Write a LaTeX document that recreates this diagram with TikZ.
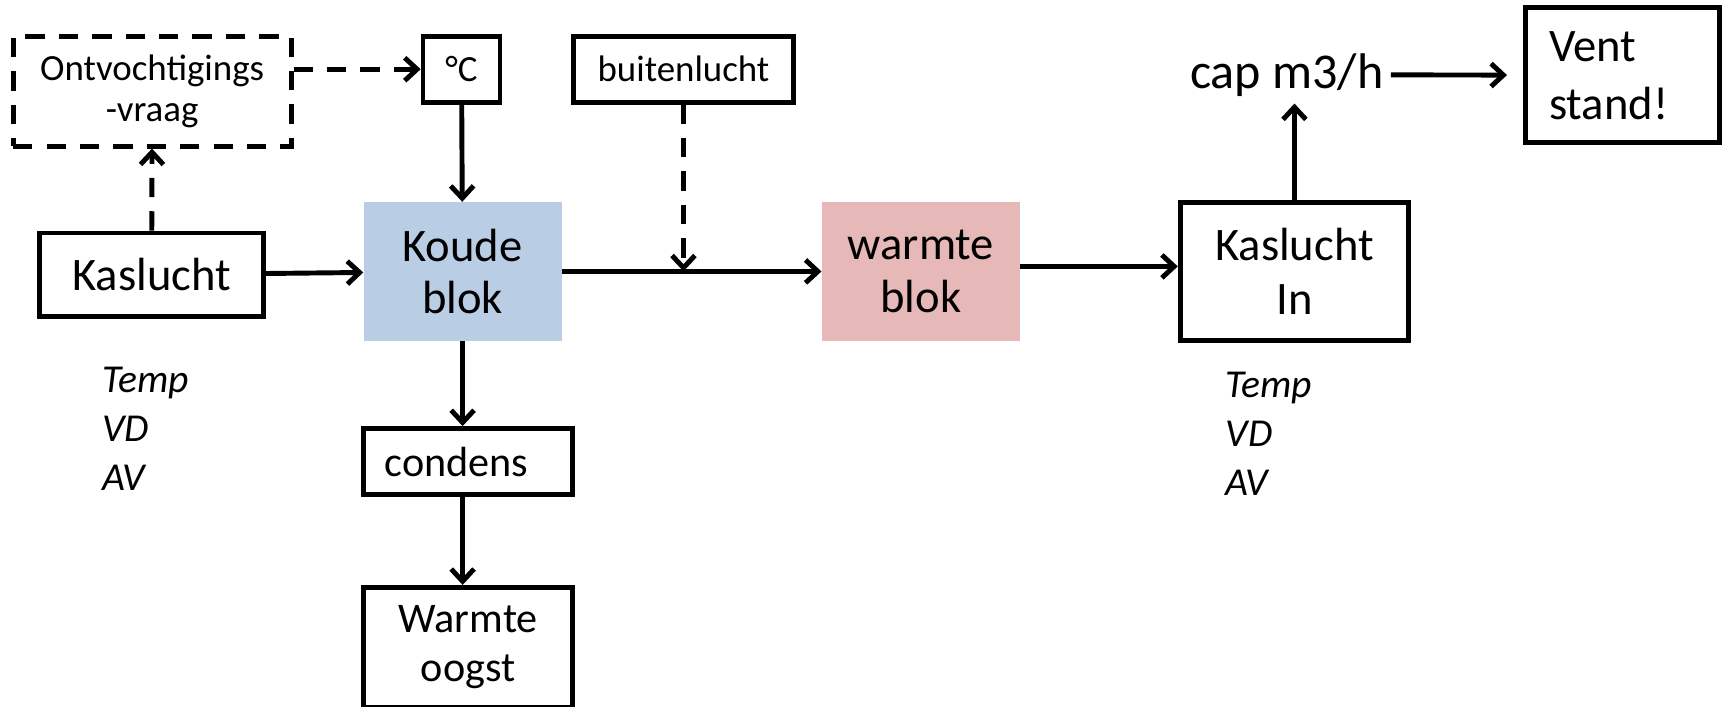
\documentclass[tikz,border=0pt]{standalone}
\usepackage{fontspec}
\setmainfont{Carlito}
\usetikzlibrary{positioning,arrows.meta}
\definecolor{colorcold}{RGB}{185,205,229}
\definecolor{colorwarm}{RGB}{230,185,184}

\begin{document}
\begin{tikzpicture}[
    x=0.02198cm, y=-0.02198cm,
    node distance = 1.76cm,
    font={\fontsize{26.5}{30}\selectfont},
    block/.style={draw,line width=2.7pt,rectangle,inner sep=0pt,align=center},
    tagbox/.style={block,font={\fontsize{21}{23}\selectfont},minimum height=1.32cm},
    dashblock/.style={tagbox,dash pattern=on 11pt off 8pt},
    cold/.style={rectangle,fill=colorcold,align=center,minimum width=3.96cm,minimum height=2.77cm},
    warm/.style={rectangle,fill=colorwarm,align=center,minimum width=3.96cm,minimum height=2.77cm},
    flow/.style={line width=2.8pt,-{Straight Barb[length=7pt,width=13pt]}},
    dashflow/.style={flow,dash pattern=on 11pt off 8pt},
    note/.style={font={\fontsize{22.5}{28}\selectfont\itshape},align=left,inner sep=0pt},
]
    \useasboundingbox (0,0) rectangle (1568,643);

    % Blocks
    \node[dashblock, minimum width=5.56cm, minimum height=2.20cm] (ontv) at (138.5,83) {Ontvochtigings\\-vraag};
    \node[tagbox, minimum width=1.54cm] (degc) at (420,63) {°C};
    \node[tagbox, minimum width=4.40cm] (buiten) at (622,63) {buitenlucht};
    \node[inner sep=4pt, font={\fontsize{28.5}{32}\selectfont}] (cap) at (1171,68) {cap m3/h};
    \node[block, minimum width=3.89cm, minimum height=2.70cm, text width=2.93cm, inner xsep=0.48cm, align=left, font={\fontsize{26.5}{33}\selectfont}] (vent) at (1476.5,68.5) {Vent\\stand!};

    \node[block, minimum width=4.48cm, minimum height=1.67cm] (kaslucht) at (138,250) {Kaslucht};
    \node[cold] (koude) at (421,247) {Koude\\blok};
    \node[warm] (warmte) at (838,247) {warmte\\blok};
    \node[block, minimum width=4.57cm, minimum height=2.77cm, font={\fontsize{26.5}{31}\selectfont}] (kasin) at (1178,247) {Kaslucht\\In};

    \node[block, minimum height=1.32cm, text width=3.34cm, inner xsep=0.418cm, align=left, font={\fontsize{24}{28}\selectfont}] (condens) at (426,420) {condens};
    \node[block, minimum width=4.18cm, minimum height=2.40cm, font={\fontsize{24}{28}\selectfont}, below=of condens] (oogst) {Warmte\\oogst};

    % Notes
    \node[note, anchor=west] (kasnote) at (93,390) {Temp\\VD\\AV};
    \node[note, anchor=west] (innote) at (1115,395) {Temp\\VD\\AV};

    % Relations
    \draw[flow] (kaslucht) -- (koude);
    \draw[dashflow] (kaslucht) -- (ontv);
    \draw[dashflow] (ontv.east |- degc) -- (degc);
    \draw[flow] (degc) -- (koude);
    \draw[flow] (koude) -- (warmte);
    \coordinate (meng) at (buiten |- koude);
    \draw[dashflow] (buiten) -- (meng);
    \draw[flow] ([yshift=1mm]warmte.east) -- ([yshift=1mm]kasin.west);
    \draw[flow] (kasin) -- (kasin |- cap.south);
    \draw[flow, shorten >=9pt] (cap) -- (vent);
    \draw[flow] (koude.south) -- (koude.south |- condens.north);
    \draw[flow] (koude.south |- condens.south) -- (koude.south |- oogst.north);

\end{tikzpicture}
\end{document}
